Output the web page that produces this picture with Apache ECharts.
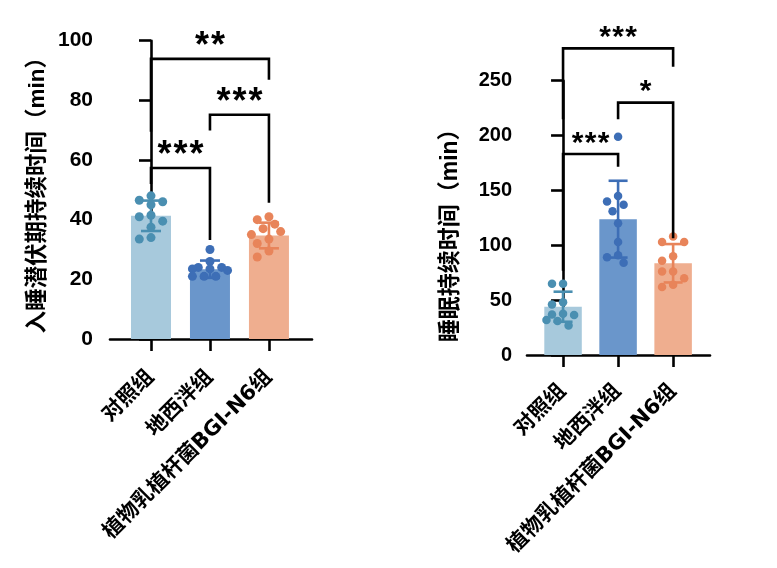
<!DOCTYPE html>
<html>
<head>
<meta charset="utf-8">
<script src="https://cdn.jsdelivr.net/npm/echarts@6/dist/echarts.min.js"></script>
<style>
  html, body { margin: 0; padding: 0; background: #fff; }
  #chart { width: 777px; height: 568px; }
</style>
</head>
<body>
<div id="chart"></div>
<script>
// ---------- data ----------
const categories = ['对照组', '地西泮组', '植物乳植杆菌BGI-N6组'];

// Left panel: sleep latency (min)
const latencyTitle = '入睡潜伏期持续时间（min）';
const latencyTicks = [0, 20, 40, 60, 80, 100];
const latencyMean = [41.3, 23.4, 34.7];
const latencySD = [5.1, 2.9, 4.3];
const latencyCtrl = [48, 46.5, 46, 45, 41.5, 41, 39.5, 37.5, 34, 33.5];
const latencyDzp = [30, 26, 24, 24, 23.5, 23.5, 23, 21, 21, 21];
const latencyLp = [41, 40, 38.5, 37, 36, 35, 33.5, 32, 29.5, 27.5];
// [from, to, bracket top, left leg end, right leg end, label]
const latencySig = [
  [0, 1, 57.3, 52.0, 33.2, '***'],
  [1, 2, 75.2, 69.9, 45.7, '***'],
  [0, 2, 93.9, 69.5, 86.9, '**']
];

// Right panel: sleep duration (min)
const durationTitle = '睡眠持续时间（min）';
const durationTicks = [0, 50, 100, 150, 200, 250];
const durationMean = [44.0, 123.8, 83.6];
const durationSD = [13.7, 35.0, 17.5];
const durationCtrl = [65, 65, 48, 46, 37.5, 37, 36.5, 32, 31, 27];
const durationDzp = [199, 145, 140, 137, 131, 120, 103, 91, 89, 84];
const durationLp = [108, 103, 103, 90, 86, 76, 76, 70, 64, 62];
const durationSig = [
  [0, 1, 183.2, 76.9, 171.6, '***'],
  [1, 2, 230.0, 214.8, 106.3, '*'],
  [0, 2, 279.5, 214.8, 262.8, '***']
];

// ---------- style ----------
const barColors = ['#A7C9DC', '#6A96CB', '#EFAE8F'];
const dotColors = ['#4A8FB1', '#3D6EB6', '#E8845A'];
const FONT = "Arial, 'Liberation Sans', 'Noto Sans CJK SC', sans-serif";
const XFONT = "'DejaVu Sans', 'Noto Sans CJK SC', sans-serif";

const panels = [
  {
    grid: { left: 110, top: 40.7, width: 202, height: 298.3 },
    xMin: -0.695, xMax: 2.73, yMax: 100, yInterval: 20,
    title: latencyTitle, ticks: latencyTicks,
    mean: latencyMean, sd: latencySD, groups: [latencyCtrl, latencyDzp, latencyLp],
    sig: latencySig, barWidth: 40, dot: 9, cap: 10, tickFont: 21, nameFont: 22.5, nameGap: 61, namePad: [0, 0, 0, 0],
    labelFont: 21, yLabelMargin: 17, xLabelMargin: 35, starFont: 36, starPitch: 16, starGap: 20
  },
  {
    grid: { left: 527, top: 80.7, width: 183, height: 274.3 },
    xMin: -0.655, xMax: 2.67, yMax: 250, yInterval: 50,
    title: durationTitle, ticks: durationTicks,
    mean: durationMean, sd: durationSD, groups: [durationCtrl, durationDzp, durationLp],
    sig: durationSig, barWidth: 37.5, dot: 8.5, cap: 9.5, tickFont: 20, nameFont: 23, nameGap: 65, namePad: [0, 24, 0, 0],
    labelFont: 21, yLabelMargin: 15, xLabelMargin: 33, starFont: 30, starPitch: 13, starGap: 17.5
  }
];

// simple beeswarm: spread points horizontally so they do not overlap (limited spread)
function swarm(values, idx, yPer, xPer, D, h, kMax) {
  const order = values.map((v, i) => i).sort((a, b) => values[b] - values[a]);
  const placed = [];
  const out = [];
  for (const i of order) {
    const py = values[i] * yPer;
    const cands = [0];
    for (let k = 1; k <= kMax; k++) cands.push(-k * h, k * h);
    let best = null, bestD = -1;
    for (const c of cands) {
      const md = placed.length ? Math.min(...placed.map(p => Math.hypot(p[0] - c, p[1] - py))) : Infinity;
      if (md >= D) { best = c; break; }
      if (md > bestD) { bestD = md; best = c; }
    }
    placed.push([best, py]);
    out.push([idx + best / xPer, values[i]]);
  }
  return out;
}

const option = {
  backgroundColor: '#ffffff',
  animation: false,
  grid: [], xAxis: [], yAxis: [], series: []
};

panels.forEach((P, pi) => {
  option.grid.push(Object.assign({ containLabel: false }, P.grid));
  option.xAxis.push({
    type: 'value', gridIndex: pi, min: P.xMin, max: P.xMax,
    splitLine: { show: false },
    axisLine: { show: true, onZero: false, lineStyle: { color: '#000', width: 2.6 } },
    axisTick: { show: true, length: 12, customValues: [0, 1, 2], lineStyle: { color: '#000', width: 2.6 } },
    axisLabel: {
      show: true, customValues: [0, 1, 2], rotate: 45, margin: P.xLabelMargin,
      formatter: v => categories[Math.round(v)],
      fontSize: P.labelFont, fontWeight: 'bold', color: '#000', fontFamily: XFONT
    }
  });
  option.yAxis.push({
    type: 'value', gridIndex: pi, min: 0, max: P.yMax, interval: P.yInterval,
    name: P.title, nameLocation: 'middle', nameGap: P.nameGap,
    nameTextStyle: { fontSize: P.nameFont, fontWeight: 'bold', color: '#000', fontFamily: FONT, padding: P.namePad },
    splitLine: { show: false },
    axisLine: { show: true, lineStyle: { color: '#000', width: 2.6 } },
    axisTick: { show: true, length: 12, lineStyle: { color: '#000', width: 2.6 } },
    axisLabel: { fontSize: P.tickFont, fontWeight: 'bold', color: '#000', fontFamily: FONT, margin: P.yLabelMargin }
  });

  const yPer = P.grid.height / P.yMax;
  const xPer = P.grid.width / (P.xMax - P.xMin);

  // bars
  option.series.push({
    type: 'bar', xAxisIndex: pi, yAxisIndex: pi, barWidth: P.barWidth, z: 1,
    data: P.mean.map((m, i) => ({ value: [i, m], itemStyle: { color: barColors[i] } }))
  });

  // error bars (mean ± SD)
  option.series.push({
    type: 'custom', xAxisIndex: pi, yAxisIndex: pi, z: 3, clip: false,
    encode: { x: 0, y: 1 },
    data: P.mean.map((m, i) => [i, m, P.sd[i]]),
    renderItem: (params, api) => {
      const x = api.value(0), m = api.value(1), s = api.value(2);
      const t = api.coord([x, m + s]), b = api.coord([x, m - s]);
      const st = { stroke: dotColors[params.dataIndex], lineWidth: 2.6 };
      return {
        type: 'group', children: [
          { type: 'line', shape: { x1: t[0], y1: t[1], x2: b[0], y2: b[1] }, style: st },
          { type: 'line', shape: { x1: t[0] - P.cap, y1: t[1], x2: t[0] + P.cap, y2: t[1] }, style: st },
          { type: 'line', shape: { x1: b[0] - P.cap, y1: b[1], x2: b[0] + P.cap, y2: b[1] }, style: st }
        ]
      };
    }
  });

  // individual points
  P.groups.forEach((vals, gi) => {
    option.series.push({
      type: 'scatter', xAxisIndex: pi, yAxisIndex: pi, z: 4,
      symbolSize: P.dot, itemStyle: { color: dotColors[gi], opacity: 1 },
      data: swarm(vals, gi, yPer, xPer, P.dot * 1.05, P.dot * 0.65, 3)
    });
  });

  // significance brackets
  option.series.push({
    type: 'custom', xAxisIndex: pi, yAxisIndex: pi, z: 5, clip: false,
    encode: { x: [0, 1], y: [2, 3, 4] },
    data: P.sig.map(s => [s[0], s[1], s[2], s[3], s[4]]),
    renderItem: (params, api) => {
      const x1 = api.value(0), x2 = api.value(1), yt = api.value(2), yl = api.value(3), yr = api.value(4);
      const a = api.coord([x1, yl]), b = api.coord([x1, yt]), c = api.coord([x2, yt]), d = api.coord([x2, yr]);
      const label = P.sig[params.dataIndex][5];
      const n = label.length;
      const cx = (b[0] + c[0]) / 2;
      const cy = b[1] - P.starGap + 0.225 * P.starFont;
      const children = [{
        type: 'polyline', shape: { points: [a, b, c, d] },
        style: { stroke: '#000', lineWidth: 2.6, fill: null }
      }];
      for (let k = 0; k < n; k++) {
        children.push({
          type: 'text', x: cx + (k - (n - 1) / 2) * P.starPitch, y: cy,
          style: { text: '*', fontSize: P.starFont, fontWeight: 'bold', fontFamily: FONT, fill: '#000', align: 'center', verticalAlign: 'middle' }
        });
      }
      return { type: 'group', children };
    }
  });
});

const chart = echarts.init(document.getElementById('chart'), null, { renderer: 'canvas' });
chart.setOption(option);
</script>
</body>
</html>
